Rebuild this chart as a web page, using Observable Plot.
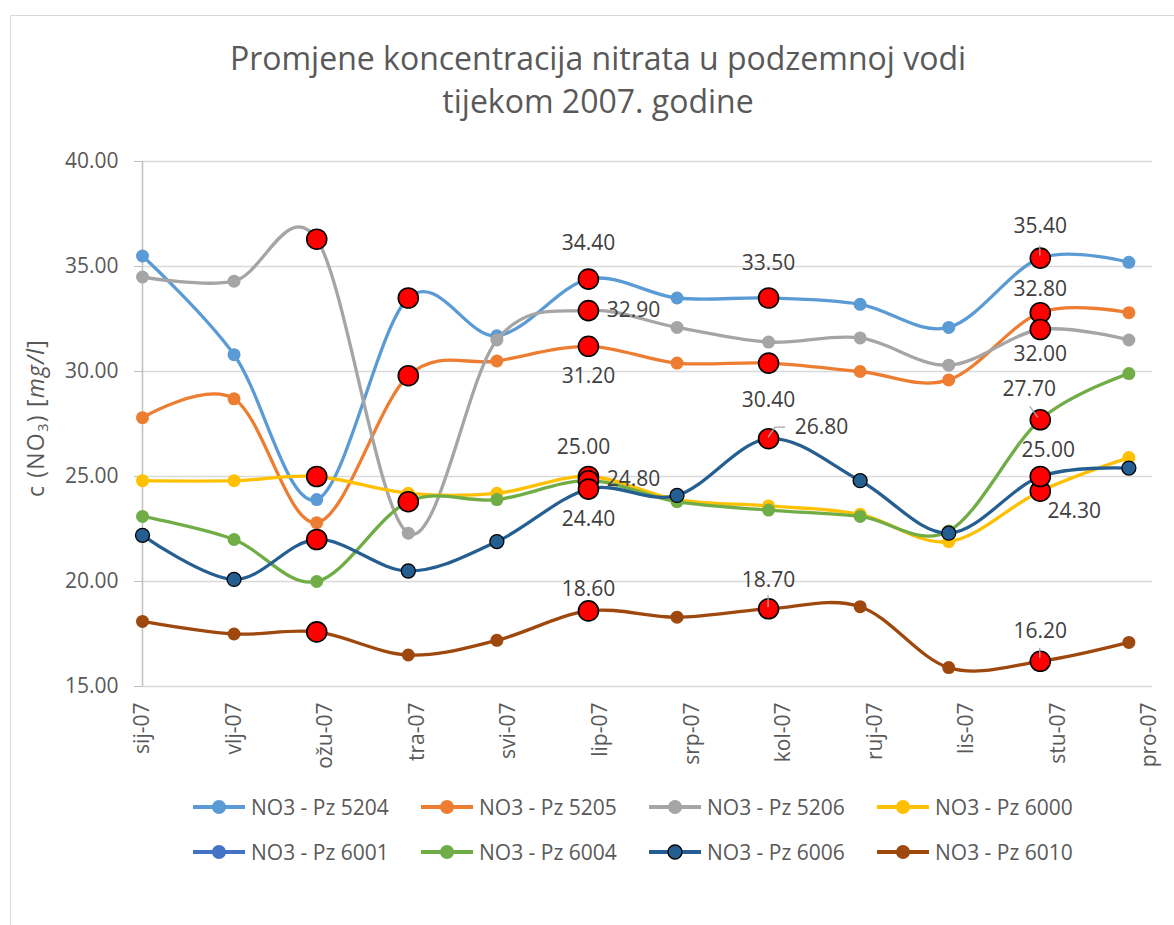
<!DOCTYPE html>
<html><head><meta charset="utf-8">
<script src="https://cdn.jsdelivr.net/npm/d3@7"></script>
<script src="https://cdn.jsdelivr.net/npm/@observablehq/plot@0.6"></script>
<style>
html,body{margin:0;padding:0;background:#fff;overflow:hidden;}
#root{position:relative;width:1174px;height:925px;overflow:hidden;font-family:"Open Sans",sans-serif;color:#595959;}
#frame{position:absolute;left:10px;top:15px;width:1300px;height:1000px;border-left:1.5px solid #D9D9D9;border-top:1.5px solid #D9D9D9;}
#chart{position:absolute;left:0;top:0;}
#title{position:absolute;left:598px;top:36px;transform:translateX(-50%);text-align:center;white-space:nowrap;font-size:32px;line-height:43px;font-weight:400;}
#ylab{position:absolute;left:35px;top:418px;transform:translate(-50%,-50%) rotate(-90deg);white-space:nowrap;font-size:23px;letter-spacing:1.2px;}
#ylab sub{font-size:15px;vertical-align:-4px;}
#legend{position:absolute;left:192px;top:784px;display:grid;grid-template-columns:repeat(4,228px);grid-auto-rows:45px;font-size:21px;}
.item{display:flex;align-items:center;white-space:nowrap;}
.item svg{margin-right:5px;}
</style></head>
<body>
<div id="root">
  <div id="frame"></div>
  <div id="chart"></div>
  <div id="title">Promjene koncentracija nitrata u podzemnoj vodi<br>tijekom 2007. godine</div>
  <div id="ylab">c (NO<sub>3</sub>) [<i>mg/l</i>]</div>
  <div id="legend"></div>
</div>
<script>
// ---- data ----
const monthLabels = ["sij-07","vlj-07","ožu-07","tra-07","svi-07","lip-07","srp-07","kol-07","ruj-07","lis-07","stu-07","pro-07"];
const monthDates  = ["2007-01-01","2007-02-01","2007-03-01","2007-04-01","2007-05-01","2007-06-01","2007-07-01","2007-08-01","2007-09-01","2007-10-01","2007-11-01","2007-12-01"];
// Excel date axis: major unit of 31 days
const tickDates   = ["2007-01-01","2007-02-01","2007-03-04","2007-04-04","2007-05-05","2007-06-05","2007-07-06","2007-08-06","2007-09-06","2007-10-07","2007-11-07","2007-12-08"];
const xDomain = ["2007-01-01","2007-12-09"];
const yTicks = [15, 20, 25, 30, 35, 40];

const seriesNames  = ["NO3 - Pz 5204","NO3 - Pz 5205","NO3 - Pz 5206","NO3 - Pz 6000","NO3 - Pz 6001","NO3 - Pz 6004","NO3 - Pz 6006","NO3 - Pz 6010"];
const seriesColors = ["#5B9BD5","#ED7D31","#A5A5A5","#FFC000","#4472C4","#70AD47","#255E91","#9E480E"];

const pz5204 = [35.5, 30.8, 23.9, 33.5, 31.7, 34.4, 33.5, 33.5, 33.2, 32.1, 35.4, 35.2];
const pz5205 = [27.8, 28.7, 22.8, 29.8, 30.5, 31.2, 30.4, 30.4, 30.0, 29.6, 32.8, 32.8];
const pz5206 = [34.5, 34.3, 36.3, 22.3, 31.5, 32.9, 32.1, 31.4, 31.6, 30.3, 32.0, 31.5];
const pz6000 = [24.8, 24.8, 25.0, 24.2, 24.2, 25.0, 23.9, 23.6, 23.2, 21.9, 24.3, 25.9];
const pz6001 = [];
const pz6004 = [23.1, 22.0, 20.0, 23.8, 23.9, 24.8, 23.8, 23.4, 23.1, 22.4, 27.7, 29.9];
const pz6006 = [22.2, 20.1, 22.0, 20.5, 21.9, 24.4, 24.1, 26.8, 24.8, 22.3, 25.0, 25.4];
const pz6010 = [18.1, 17.5, 17.6, 16.5, 17.2, 18.6, 18.3, 18.7, 18.8, 15.9, 16.2, 17.1];
const seriesValues = [pz5204, pz5205, pz5206, pz6000, pz6001, pz6004, pz6006, pz6010];

// highlighted (red) points
const highlights = [
  ["NO3 - Pz 5204","tra-07"],["NO3 - Pz 5204","lip-07"],["NO3 - Pz 5204","kol-07"],["NO3 - Pz 5204","stu-07"],
  ["NO3 - Pz 5205","tra-07"],["NO3 - Pz 5205","lip-07"],["NO3 - Pz 5205","kol-07"],["NO3 - Pz 5205","stu-07"],
  ["NO3 - Pz 5206","ožu-07"],["NO3 - Pz 5206","lip-07"],["NO3 - Pz 5206","stu-07"],
  ["NO3 - Pz 6000","ožu-07"],["NO3 - Pz 6000","lip-07"],["NO3 - Pz 6000","stu-07"],
  ["NO3 - Pz 6004","tra-07"],["NO3 - Pz 6004","lip-07"],["NO3 - Pz 6004","stu-07"],
  ["NO3 - Pz 6006","ožu-07"],["NO3 - Pz 6006","lip-07"],["NO3 - Pz 6006","kol-07"],["NO3 - Pz 6006","stu-07"],
  ["NO3 - Pz 6010","ožu-07"],["NO3 - Pz 6010","lip-07"],["NO3 - Pz 6010","kol-07"],["NO3 - Pz 6010","stu-07"]
];
// data-label placement offsets (px) relative to their point
const labelOffsets = [
  ["NO3 - Pz 5204","lip-07",0,-36],["NO3 - Pz 5204","kol-07",0,-35],["NO3 - Pz 5204","stu-07",0,-32],
  ["NO3 - Pz 5205","lip-07",0,30],["NO3 - Pz 5205","kol-07",0,37],["NO3 - Pz 5205","stu-07",0,-23],
  ["NO3 - Pz 5206","lip-07",45,0],["NO3 - Pz 5206","stu-07",0,25],
  ["NO3 - Pz 6000","lip-07",-5,-29],["NO3 - Pz 6000","stu-07",34,20],
  ["NO3 - Pz 6004","lip-07",45,-1],["NO3 - Pz 6004","stu-07",-11,-31],
  ["NO3 - Pz 6006","lip-07",0,30],["NO3 - Pz 6006","kol-07",53,-11],["NO3 - Pz 6006","stu-07",8,-26],
  ["NO3 - Pz 6010","lip-07",0,-22],["NO3 - Pz 6010","kol-07",0,-29],["NO3 - Pz 6010","stu-07",0,-30]
];
// label leader lines (px offsets relative to their point)
const leaders = [
  ["NO3 - Pz 5204","stu-07",[[0,-2],[0,-12]]],
  ["NO3 - Pz 6010","kol-07",[[0,-1],[0,-13]]],
  ["NO3 - Pz 6010","stu-07",[[0,-3],[0,-13]]],
  ["NO3 - Pz 6004","stu-07",[[-2,-2],[-10,-13]]],
  ["NO3 - Pz 6006","kol-07",[[0,-1],[7,-11],[17,-11]]]
];

// ---- build ----
const parse = d3.utcParse("%Y-%m-%d");
const rows = [];
seriesNames.forEach((s, si) => {
  seriesValues[si].forEach((v, mi) => {
    rows.push({series: s, month: monthLabels[mi], date: parse(monthDates[mi]), value: v});
  });
});
const find = (s, m) => rows.find(r => r.series === s && r.month === m);
const hiRows = highlights.map(([s, m]) => find(s, m));
const labRows = labelOffsets.map(([s, m, dx, dy]) => ({...find(s, m), dx, dy}));
const tickDateObjs = tickDates.map(parse);
const tickLabelOf = d => monthLabels[tickDateObjs.findIndex(t => +t === +d)];

const marks = [
  Plot.gridY(yTicks, {stroke: "#D9D9D9", strokeOpacity: 1, strokeWidth: 1.3}),
  Plot.ruleX([parse(xDomain[0])], {stroke: "#BFBFBF", strokeWidth: 1.5}),
  Plot.axisY(yTicks, {tickFormat: d => d.toFixed(2), tickSize: 8, tickPadding: 16, stroke: "#BFBFBF", strokeOpacity: 1, fill: "#595959", fontSize: 21, label: null}),
  Plot.axisX(tickDateObjs, {tickFormat: tickLabelOf, tickRotate: -90, tickSize: 0, tickPadding: 16, fill: "#595959", fontSize: 21, label: null})
];
seriesNames.forEach((s, si) => {
  const data = rows.filter(r => r.series === s);
  const c = seriesColors[si];
  const outlined = s === "NO3 - Pz 6006";
  marks.push(Plot.line(data, {x: "date", y: "value", stroke: c, strokeWidth: 3.3, curve: "cardinal", strokeLinecap: "round"}));
  marks.push(Plot.dot(data, {x: "date", y: "value", r: outlined ? 7 : 6.5, fill: c, stroke: outlined ? "#000" : "none", strokeWidth: 1.3}));
  marks.push(Plot.dot(hiRows.filter(r => r.series === s), {x: "date", y: "value", r: 10, fill: "#FF0000", stroke: "#000", strokeWidth: 1.6}));
});
// leader lines, drawn with the chart's own scales
marks.push((index, scales) => {
  const g = d3.create("svg:g").attr("fill", "none").attr("stroke", "#A6A6A6").attr("stroke-width", 1.3);
  leaders.forEach(([s, m, pts]) => {
    const r = find(s, m);
    const x = scales.x(r.date), y = scales.y(r.value);
    g.append("path").attr("d", d3.line()(pts.map(([a, b]) => [x + a, y + b])));
  });
  return g.node();
});
labRows.forEach(r => {
  marks.push(Plot.text([r], {x: "date", y: "value", text: d => d.value.toFixed(2), dx: r.dx, dy: r.dy, fill: "#404040", fontSize: 21}));
});

const chart = Plot.plot({
  width: 1174, height: 780,
  marginLeft: 142, marginRight: 22, marginTop: 161, marginBottom: 94,
  style: {fontFamily: "Open Sans", background: "transparent", overflow: "visible"},
  x: {type: "utc", domain: xDomain.map(parse)},
  y: {domain: [15, 40]},
  marks
});
document.getElementById("chart").appendChild(chart);

// legend
const leg = document.getElementById("legend");
seriesNames.forEach((s, si) => {
  const c = seriesColors[si];
  const outlined = s === "NO3 - Pz 6006";
  const item = document.createElement("div");
  item.className = "item";
  item.innerHTML = `<svg width="54" height="20"><line x1="1" y1="10" x2="53" y2="10" stroke="${c}" stroke-width="4"/><circle cx="27" cy="10" r="7" fill="${c}" ${outlined ? 'stroke="#000" stroke-width="1.3"' : ''}/></svg><span>${s}</span>`;
  leg.appendChild(item);
});
</script>
</body></html>
